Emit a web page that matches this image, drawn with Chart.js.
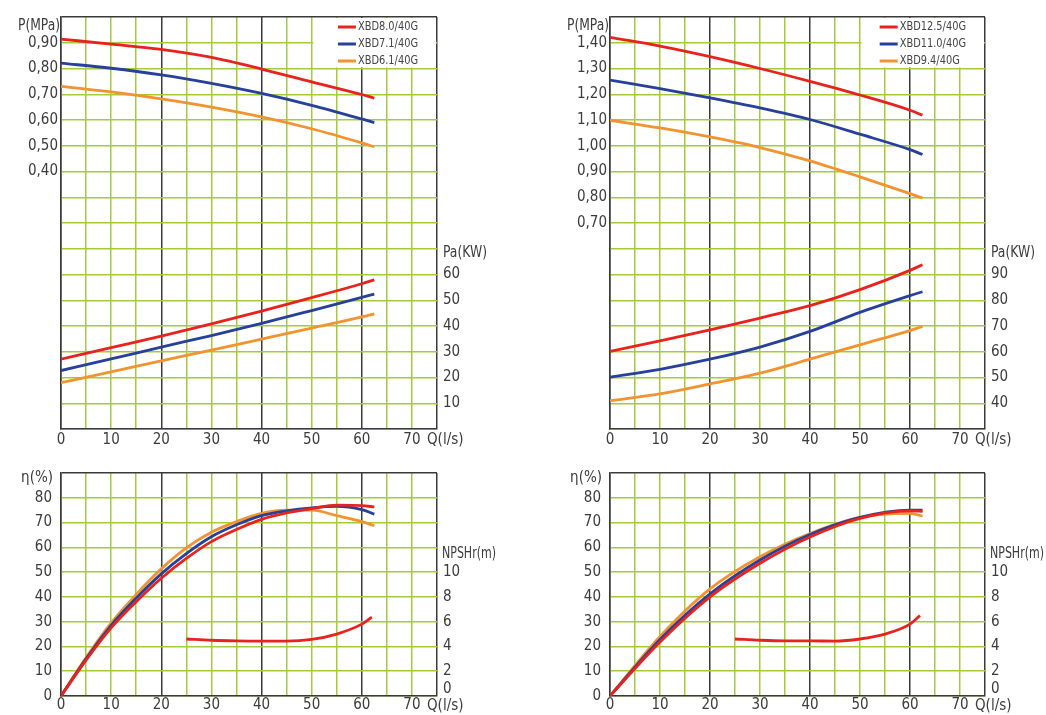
<!DOCTYPE html>
<html><head><meta charset="utf-8">
<script src="https://cdn.jsdelivr.net/npm/chart.js@4.4.1/dist/chart.umd.min.js"></script>
<style>
html,body{margin:0;padding:0;background:#fff;}
#wrap{position:relative;width:1046px;height:715px;overflow:hidden;background:#fff;}
canvas{position:absolute;display:block;}
</style></head><body>
<div id="wrap">
<canvas id="ul" width="525" height="455" style="left:0;top:0"></canvas>
<canvas id="ll" width="525" height="260" style="left:0;top:455px"></canvas>
<canvas id="ur" width="521" height="455" style="left:525px;top:0"></canvas>
<canvas id="lr" width="521" height="260" style="left:525px;top:455px"></canvas>
</div>
<script>
// ---------- DATA ----------
const flowTickLabels = [0, 10, 20, 30, 40, 50, 60, 70];
const modelsLeft  = ['XBD8.0/40G', 'XBD7.1/40G', 'XBD6.1/40G'];
const modelsRight = ['XBD12.5/40G', 'XBD11.0/40G', 'XBD9.4/40G'];

// left panel – pressure / power
const flowL = [0, 10, 20, 30, 40, 50, 60, 62.5];
const pressL_80 = [0.914, 0.895, 0.874, 0.843, 0.798, 0.748, 0.699, 0.685];
const pressL_71 = [0.821, 0.801, 0.775, 0.742, 0.703, 0.657, 0.604, 0.590];
const pressL_61 = [0.731, 0.709, 0.682, 0.650, 0.612, 0.566, 0.511, 0.496];
const powerL_80 = [27.1, 31.6, 36.1, 40.8, 45.8, 51.0, 56.4, 57.9];
const powerL_71 = [22.7, 27.2, 31.8, 36.3, 41.0, 46.0, 51.1, 52.4];
const powerL_61 = [18.0, 22.2, 26.5, 30.6, 34.9, 39.2, 43.5, 44.7];
// left panel – efficiency / NPSHr
const flowEffL = [0, 5, 10, 15, 20, 25, 30, 35, 40, 45, 50, 55, 60, 62.5];
const effL_80 = [0, 14.5, 27.5, 38.0, 47.5, 55.5, 62.3, 67.2, 71.3, 73.9, 75.6, 77.0, 76.8, 76.3];
const effL_71 = [0, 15.0, 28.5, 39.5, 49.3, 57.5, 64.3, 69.1, 72.8, 74.7, 75.9, 76.5, 75.2, 73.4];
const effL_61 = [0, 15.5, 29.5, 41.0, 51.3, 59.8, 66.1, 70.4, 73.7, 75.0, 75.0, 72.8, 70.4, 68.7];
const flowNpsh = [25, 30, 35, 40, 45, 50, 55, 60, 62];
const npshL = [4.6, 4.5, 4.45, 4.43, 4.43, 4.57, 5.0, 5.8, 6.36];

// right panel – pressure / power
const flowR = [0, 10, 20, 30, 40, 50, 60, 62.5];
const pressR_125 = [1.421, 1.387, 1.346, 1.300, 1.250, 1.197, 1.138, 1.119];
const pressR_110 = [1.255, 1.222, 1.186, 1.147, 1.102, 1.045, 0.985, 0.966];
const pressR_94  = [1.099, 1.069, 1.034, 0.993, 0.941, 0.879, 0.814, 0.797];
const powerR_125 = [60.1, 64.2, 68.5, 73.1, 77.9, 84.1, 91.6, 93.8];
const powerR_110 = [50.1, 53.2, 57.1, 61.8, 67.9, 75.3, 81.8, 83.3];
const powerR_94  = [41.0, 43.6, 47.5, 51.7, 57.1, 62.7, 68.2, 69.8];
// right panel – efficiency / NPSHr
const flowEffR = [0, 10, 20, 30, 40, 50, 60, 62.5];
const effR_125 = [0, 21.8, 40.0, 53.6, 64.2, 71.7, 74.7, 74.5];
const effR_110 = [0, 22.8, 41.2, 54.9, 65.2, 72.1, 75.0, 75.0];
const effR_94  = [0, 24.0, 43.2, 56.2, 65.6, 72.1, 73.7, 72.6];
const npshR = [4.6, 4.5, 4.45, 4.45, 4.43, 4.6, 5.0, 5.8, 6.5];

// tick labels
const pressTicksL = [0.4, 0.5, 0.6, 0.7, 0.8, 0.9];
const powerTicksL = [10, 20, 30, 40, 50, 60];
const pressTicksR = [0.7, 0.8, 0.9, 1.0, 1.1, 1.2, 1.3, 1.4];
const powerTicksR = [40, 50, 60, 70, 80, 90];
const effTicks  = [0, 10, 20, 30, 40, 50, 60, 70, 80];
const npshTicks = [2, 4, 6, 8, 10];
const npshZeroLabel = '0';

// ---------- STYLE ----------
const FONT = "'Liberation Sans Narrow', 'DejaVu Sans Condensed', 'Arial Narrow', sans-serif";
const RED = '#e8231e', BLUE = '#27409b', ORANGE = '#f29330';
const GREEN = '#a4cc3a', DARK = '#3a3a3a', TXT = '#3c3c3c';
const darkFlow = [0, 20, 40, 60, 75];

function pts(xs, ys) { return xs.map((x, i) => ({ x: x, y: ys[i] })); }
function has(arr, v) { return arr.some(a => Math.abs(a - v) < 1e-6); }
function fmtP(v) { return v.toFixed(2).replace('.', ','); }

const unitPlugin = {
  id: 'unitLabels',
  afterDraw(chart) {
    const items = chart.options.plugins.unitLabels.items || [];
    const ctx = chart.ctx, ca = chart.chartArea;
    ctx.save();
    ctx.font = '15px ' + FONT;
    ctx.fillStyle = TXT;
    ctx.textBaseline = 'middle';
    items.forEach(it => {
      const sc = chart.scales[it.scale];
      let x, y;
      if (it.scale === 'x') {
        x = sc.getPixelForValue(it.value) + it.dx;
        y = ca.bottom + it.dy;
      } else {
        y = sc.getPixelForValue(it.value) + it.dy;
        x = (it.side === 'left' ? ca.left : ca.right) + it.dx;
      }
      ctx.textAlign = it.align;
      if (it.maxW) ctx.fillText(it.text, x, y, it.maxW); else ctx.fillText(it.text, x, y);
    });
    ctx.restore();
  }
};

const legendPlugin = {
  id: 'boxLegend',
  beforeDatasetsDraw(chart) {
    const o = chart.options.plugins.boxLegend;
    if (!o || !o.labels) return;
    const ctx = chart.ctx, ca = chart.chartArea;
    const xs = chart.scales.x, ys = chart.scales.y;
    const x0 = xs.getPixelForValue(o.fromX) + 1.5;
    const y1 = ys.getPixelForValue(o.toY) - 1;
    ctx.save();
    ctx.fillStyle = '#fff';
    ctx.fillRect(x0, ca.top + 1, ca.right - 1 - x0, y1 - ca.top - 1);
    ctx.font = '13px ' + FONT;
    ctx.textBaseline = 'middle';
    ctx.textAlign = 'left';
    let maxW = 0;
    o.labels.forEach(t => { maxW = Math.max(maxW, ctx.measureText(t).width * 0.84); });
    const tx = ca.right - 19 - maxW;
    o.labels.forEach((t, i) => {
      const ty = ca.top + 10 + i * 17;
      ctx.strokeStyle = o.colors[i];
      ctx.lineWidth = 3;
      ctx.beginPath();
      ctx.moveTo(tx - 20, ty);
      ctx.lineTo(tx - 2, ty);
      ctx.stroke();
      ctx.fillStyle = '#444';
      ctx.fillText(t, tx, ty, ctx.measureText(t).width * 0.84);
    });
    ctx.restore();
  }
};

function line(data, color, axis) {
  return { data: data, borderColor: color, backgroundColor: color, yAxisID: axis,
    borderWidth: 2.8, pointRadius: 0, cubicInterpolationMode: 'monotone', fill: false };
}

function build(id, o) {
  const W = o.W, H = o.H;
  return new Chart(document.getElementById(id), {
    type: 'line',
    data: { datasets: o.datasets },
    plugins: [unitPlugin, legendPlugin],
    options: {
      responsive: false, animation: false, devicePixelRatio: 1,
      layout: { padding: { top: o.top, left: 0, right: 0, bottom: 0 } },
      plugins: { legend: { display: false }, tooltip: { enabled: false },
        unitLabels: { items: o.units }, boxLegend: o.legend || {} },
      scales: {
        x: {
          type: 'linear', min: 0, max: 75,
          afterFit: s => { s.height = H - o.bottom; },
          ticks: { stepSize: 5, autoSkip: false, maxRotation: 0, padding: o.xPad, color: TXT,
            font: { family: FONT, size: 15 },
            callback: v => has(flowTickLabels, v) ? String(Math.round(v)) : '' },
          grid: { drawTicks: false, lineWidth: 1.5,
            color: c => (c.tick && has(darkFlow, c.tick.value)) ? DARK : GREEN },
          border: { display: true, color: DARK, width: 1.5 }
        },
        y: {
          type: 'linear', position: 'left', min: o.yl.min, max: o.yl.max,
          afterFit: s => { s.width = o.left; },
          ticks: { stepSize: o.yl.step, autoSkip: false, padding: o.yl.pad, color: TXT,
            font: { family: FONT, size: 15 }, callback: o.yl.cb },
          grid: { drawTicks: false, lineWidth: 1.5,
            color: c => (c.tick && Math.abs(c.tick.value - o.yl.max) < 1e-6) ? DARK : GREEN },
          border: { display: true, color: DARK, width: 1.5 }
        },
        y2: {
          type: 'linear', position: 'right', min: o.yr.min, max: o.yr.max,
          afterFit: s => { s.width = W - o.right; },
          ticks: { stepSize: o.yr.step, autoSkip: false, padding: o.yr.pad, color: TXT,
            font: { family: FONT, size: 15 }, callback: o.yr.cb },
          grid: { display: false, drawTicks: false },
          border: { display: false }
        }
      }
    }
  });
}

// upper left
build('ul', {
  W: 525, H: 455, top: 17, bottom: 429, left: 61, right: 437, xPad: 2,
  yl: { min: -0.6, max: 1.0, step: 0.1, pad: 3, cb: v => has(pressTicksL, v) ? fmtP(v) : '' },
  yr: { min: 0, max: 160, step: 10, pad: 6, cb: v => has(powerTicksL, v) ? String(Math.round(v)) : '' },
  datasets: [
    line(pts(flowL, pressL_80), RED, 'y'), line(pts(flowL, pressL_71), BLUE, 'y'), line(pts(flowL, pressL_61), ORANGE, 'y'),
    line(pts(flowL, powerL_80), RED, 'y2'), line(pts(flowL, powerL_71), BLUE, 'y2'), line(pts(flowL, powerL_61), ORANGE, 'y2')
  ],
  legend: { labels: modelsLeft, colors: [RED, BLUE, ORANGE], fromX: 50, toY: 0.8 },
  units: [
    { text: 'P(MPa)', scale: 'y', value: 1.0, side: 'left', dx: -1, dy: 9, align: 'right', maxW: 42 },
    { text: 'Pa(KW)', scale: 'y2', value: 70, side: 'right', dx: 6, dy: 4, align: 'left', maxW: 44 },
    { text: 'Q(l/s)', scale: 'x', value: 75, dx: -10, dy: 11, align: 'left', maxW: 40 }
  ]
});

// lower left
build('ll', {
  W: 525, H: 260, top: 9, bottom: 241, left: 61, right: 437, xPad: 0,
  yl: { min: 0, max: 90, step: 10, pad: 9, cb: v => has(effTicks, v) ? String(Math.round(v)) : '' },
  yr: { min: 0, max: 18, step: 2, pad: 6, cb: v => has(npshTicks, v) ? String(Math.round(v)) : '' },
  datasets: [
    line(pts(flowEffL, effL_80), RED, 'y'), line(pts(flowEffL, effL_71), BLUE, 'y'), line(pts(flowEffL, effL_61), ORANGE, 'y'),
    line(pts(flowNpsh, npshL), RED, 'y2')
  ],
  units: [
    { text: 'η(%)', scale: 'y', value: 90, side: 'left', dx: -8, dy: 5, align: 'right' },
    { text: 'NPSHr(m)', scale: 'y2', value: 12, side: 'right', dx: 5, dy: 7, align: 'left', maxW: 54 },
    { text: npshZeroLabel, scale: 'y2', value: 0, side: 'right', dx: 6, dy: -7, align: 'left' },
    { text: 'Q(l/s)', scale: 'x', value: 75, dx: -10, dy: 10, align: 'left', maxW: 40 }
  ]
});

// upper right
build('ur', {
  W: 521, H: 455, top: 17, bottom: 429, left: 85, right: 460, xPad: 2,
  yl: { min: -0.1, max: 1.5, step: 0.1, pad: 3, cb: v => has(pressTicksR, v) ? fmtP(v) : '' },
  yr: { min: 30, max: 190, step: 10, pad: 6, cb: v => has(powerTicksR, v) ? String(Math.round(v)) : '' },
  datasets: [
    line(pts(flowR, pressR_125), RED, 'y'), line(pts(flowR, pressR_110), BLUE, 'y'), line(pts(flowR, pressR_94), ORANGE, 'y'),
    line(pts(flowR, powerR_125), RED, 'y2'), line(pts(flowR, powerR_110), BLUE, 'y2'), line(pts(flowR, powerR_94), ORANGE, 'y2')
  ],
  legend: { labels: modelsRight, colors: [RED, BLUE, ORANGE], fromX: 50, toY: 1.3 },
  units: [
    { text: 'P(MPa)', scale: 'y', value: 1.5, side: 'left', dx: -1, dy: 9, align: 'right', maxW: 42 },
    { text: 'Pa(KW)', scale: 'y2', value: 100, side: 'right', dx: 6, dy: 4, align: 'left', maxW: 44 },
    { text: 'Q(l/s)', scale: 'x', value: 75, dx: -10, dy: 11, align: 'left', maxW: 40 }
  ]
});

// lower right
build('lr', {
  W: 521, H: 260, top: 9, bottom: 241, left: 85, right: 460, xPad: 0,
  yl: { min: 0, max: 90, step: 10, pad: 9, cb: v => has(effTicks, v) ? String(Math.round(v)) : '' },
  yr: { min: 0, max: 18, step: 2, pad: 6, cb: v => has(npshTicks, v) ? String(Math.round(v)) : '' },
  datasets: [
    line(pts(flowEffR, effR_125), RED, 'y'), line(pts(flowEffR, effR_110), BLUE, 'y'), line(pts(flowEffR, effR_94), ORANGE, 'y'),
    line(pts(flowNpsh, npshR), RED, 'y2')
  ],
  units: [
    { text: 'η(%)', scale: 'y', value: 90, side: 'left', dx: -8, dy: 5, align: 'right' },
    { text: 'NPSHr(m)', scale: 'y2', value: 12, side: 'right', dx: 5, dy: 7, align: 'left', maxW: 54 },
    { text: npshZeroLabel, scale: 'y2', value: 0, side: 'right', dx: 6, dy: -7, align: 'left' },
    { text: 'Q(l/s)', scale: 'x', value: 75, dx: -10, dy: 10, align: 'left', maxW: 40 }
  ]
});
</script>
</body></html>
